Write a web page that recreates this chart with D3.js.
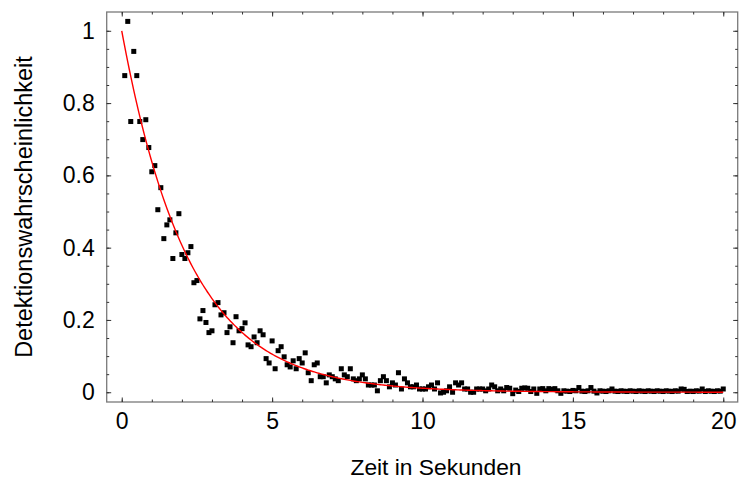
<!DOCTYPE html>
<html><head><meta charset="utf-8">
<script src="https://cdn.jsdelivr.net/npm/d3@7"></script>
<style>body{margin:0;background:#fff} text{font-family:"Liberation Sans",Arial,sans-serif;fill:#000}</style>
</head><body><svg id="c" width="740" height="484"></svg>
<script>
// sampling times (s): 0.1 ... 20.0
const times = d3.range(1, 201).map(i => i / 10);
// measured detection probability at each time
const detection = [
 0.876,1.026,0.749,0.943,0.876,0.749,0.699,0.754,0.677,0.610,
 0.627,0.505,0.566,0.425,0.463,0.477,0.370,0.441,0.494,0.381,
 0.370,0.386,0.403,0.303,0.309,0.203,0.226,0.193,0.165,0.170,
 0.242,0.248,0.214,0.220,0.165,0.181,0.137,0.209,0.170,0.176,
 0.192,0.131,0.126,0.153,0.137,0.170,0.159,0.093,0.081,0.142,
 0.065,0.115,0.126,0.098,0.076,0.070,0.087,0.065,0.093,0.081,
 0.109,0.054,0.032,0.076,0.081,0.043,0.043,0.026,0.048,0.043,
 0.037,0.032,0.065,0.048,0.043,0.065,0.037,0.032,0.037,0.048,
 0.037,0.020,0.020,0.020,0.004,0.032,0.043,0.032,0.015,0.026,
 0.020,0.054,0.009,0.037,0.026,0.015,0.015,0.020,0.009,0.009,
 0.009,0.015,0.020,0.009,0.026,-0.002,0.000,0.004,0.015,0.000,
 0.026,0.020,0.026,0.009,0.009,0.000,0.000,0.009,0.009,0.009,
 0.004,0.009,0.020,0.015,0.004,0.009,0.004,0.013,0.011,-0.004,
 0.006,0.002,0.011,0.012,0.011,0.002,0.009,-0.003,0.009,0.010,
 0.004,0.010,0.008,0.010,0.004,-0.003,0.004,0.003,0.002,0.005,
 0.004,0.013,0.003,0.002,0.004,0.013,0.003,-0.002,0.004,0.003,
 0.002,0.004,0.009,0.003,0.002,0.004,0.003,0.002,0.004,0.003,
 0.002,0.004,0.003,0.002,0.004,0.003,0.002,0.004,0.003,0.002,
 0.004,0.003,0.002,0.004,0.003,0.009,0.008,0.002,0.003,0.002,
 0.004,0.003,0.009,0.002,0.004,0.003,0.002,0.004,0.003,0.009
];
// fitted exponential decay: p(t) = fitAmplitude * exp(-fitRate * t)
const fitAmplitude = 1.0;
const fitRate = 0.45;

const xMajorTicks = [0, 5, 10, 15, 20];
const xMinorTicks = d3.range(0, 21);
const yMajorTicks = [0, 0.2, 0.4, 0.6, 0.8, 1];
const yTickLabels = ["0", "0.2", "0.4", "0.6", "0.8", "1"];
const yMinorTicks = d3.range(0, 21).map(i => i * 0.05);
const xTitle = "Zeit in Sekunden";
const yTitle = "Detektionswahrscheinlichkeit";

const L = 106.7, R = 737.7, T = 12, B = 402;
const x = d3.scaleLinear().domain([-0.5, 20.48]).range([L, R]);
const y = d3.scaleLinear().domain([-0.027, 1.052]).range([B, T]);

const svg = d3.select("#c");

// frame
svg.append("rect").attr("x", L).attr("y", T).attr("width", R - L).attr("height", B - T)
  .attr("fill", "none").attr("stroke", "#7a7a7a").attr("stroke-width", 1.3);

function styleAxis(g) {
  g.select(".domain").remove();
  g.selectAll(".tick line").attr("stroke", "#333").attr("stroke-width", 1);
}

// minor ticks on all sides
svg.append("g").attr("transform", `translate(0,${B})`)
  .call(d3.axisBottom(x).tickValues(xMinorTicks).tickSize(-2.5).tickFormat("")).call(styleAxis);
svg.append("g").attr("transform", `translate(0,${T})`)
  .call(d3.axisTop(x).tickValues(xMinorTicks).tickSize(-2.5).tickFormat("")).call(styleAxis);
svg.append("g").attr("transform", `translate(${L},0)`)
  .call(d3.axisLeft(y).tickValues(yMinorTicks).tickSize(-2.5).tickFormat("")).call(styleAxis);
svg.append("g").attr("transform", `translate(${R},0)`)
  .call(d3.axisRight(y).tickValues(yMinorTicks).tickSize(-2.5).tickFormat("")).call(styleAxis);

// major ticks
svg.append("g").attr("transform", `translate(0,${B})`)
  .call(d3.axisBottom(x).tickValues(xMajorTicks).tickSize(-4.5).tickPadding(11).tickFormat(d3.format("d")))
  .call(styleAxis);
svg.append("g").attr("transform", `translate(0,${T})`)
  .call(d3.axisTop(x).tickValues(xMajorTicks).tickSize(-4.5).tickFormat("")).call(styleAxis);
svg.append("g").attr("transform", `translate(${L},0)`)
  .call(d3.axisLeft(y).tickValues(yMajorTicks).tickSize(-4.5).tickPadding(12)
    .tickFormat((d, i) => yTickLabels[i]))
  .call(styleAxis);
svg.append("g").attr("transform", `translate(${R},0)`)
  .call(d3.axisRight(y).tickValues(yMajorTicks).tickSize(-4.5).tickFormat("")).call(styleAxis);

svg.selectAll(".tick text").attr("font-family", '"Liberation Sans",Arial,sans-serif')
  .attr("font-size", 23).attr("fill", "#000");

// axis titles
svg.append("text").attr("x", 436).attr("y", 475).attr("text-anchor", "middle")
  .attr("font-size", 22.8).text(xTitle);
svg.append("text").attr("transform", `translate(32,207) rotate(-90)`).attr("text-anchor", "middle")
  .attr("font-size", 23.5).text(yTitle);

// data points
const ms = 5;
svg.append("g").selectAll("rect").data(times.map((t, i) => [t, detection[i]])).join("rect")
  .attr("x", d => x(d[0]) - ms / 2).attr("y", d => y(d[1]) - ms / 2)
  .attr("width", ms).attr("height", ms).attr("fill", "#000");

// fitted curve
const curveT = d3.range(0, 401).map(i => i / 20);
svg.append("path").datum(curveT)
  .attr("d", d3.line().x(t => x(t)).y(t => y(fitAmplitude * Math.exp(-fitRate * t))))
  .attr("fill", "none").attr("stroke", "#ff0000").attr("stroke-width", 1.4);
</script></body></html>
